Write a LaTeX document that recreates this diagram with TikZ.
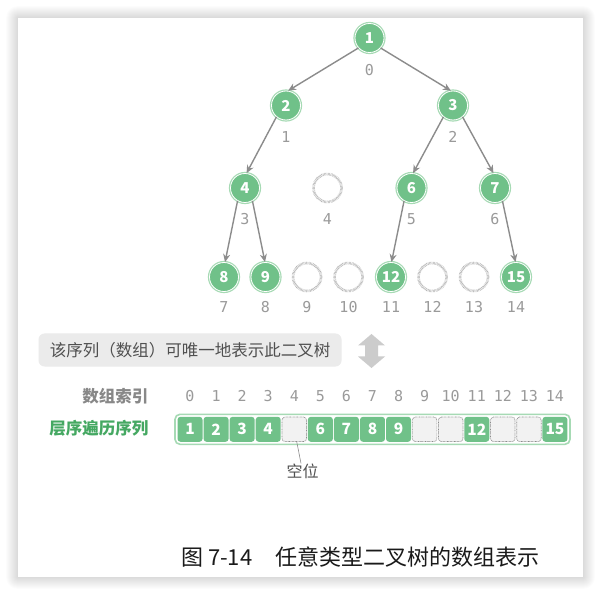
\documentclass[tikz,border=0pt]{standalone}
\usepackage{fontspec}
\setmainfont{Noto Sans CJK SC}
\newfontfamily\monof{DejaVu Sans Mono}
\usetikzlibrary{arrows.meta}
\definecolor{ngreen}{HTML}{70C189}
\definecolor{nlight}{HTML}{A6DAB4}
\definecolor{egray}{HTML}{B0B0B0}
\definecolor{agray}{HTML}{8C8C8C}
\definecolor{igray}{HTML}{9A9A9A}
\definecolor{lgray}{HTML}{888888}
\definecolor{tgreen}{HTML}{45A862}
\definecolor{boxgray}{HTML}{EBEBEB}
\definecolor{txtgray}{HTML}{505050}
\definecolor{capblack}{HTML}{1A1A1A}
\tikzset{
  treenode/.style={circle, minimum size=29pt, inner sep=0pt, fill=ngreen, draw=white, line width=0.8pt,
    preaction={draw=nlight, line width=3.2pt}, text=white, font=\fontsize{15}{15}\selectfont\bfseries},
  emptynode/.style={circle, minimum size=28pt, inner sep=0pt, draw=egray, line width=2.6pt, dash pattern=on 0.5pt off 0.8pt},
  idxlab/.style={text=igray, font=\monof\fontsize{15}{15}\selectfont, inner sep=0pt, anchor=base},
  edge/.style={draw=agray, line width=1.4pt, -{Stealth[length=8pt,width=7pt]}},
  cellfull/.style={rectangle, rounded corners=3pt, minimum width=25pt, minimum height=25pt, inner sep=0pt,
    fill=ngreen, text=white, font=\fontsize{15.5}{15.5}\selectfont\bfseries},
  cellempty/.style={rectangle, rounded corners=3pt, minimum width=24.5pt, minimum height=24.5pt, inner sep=0pt,
    fill=black!5, draw=black!45, dash pattern=on 0.7pt off 0.7pt, line width=0.7pt},
}
\begin{document}
\begin{tikzpicture}[x=1pt,y=-1pt]
\useasboundingbox (0,0) rectangle (603,596);
\fill[white] (0,0) rectangle (603,596);
\foreach \r in {1,...,12} {
  \fill[black, opacity=0.011, rounded corners=\r pt] (18-\r,18-\r) rectangle (583+\r,577+\r);
}
\fill[white] (18,18) rectangle (583,577);

% tree
\node[treenode] (n0) at (369.5,38) {1};
\node[treenode] (n1) at (286,105.5) {2};
\node[treenode] (n2) at (453,105.5) {3};
\node[treenode] (n3) at (245,188) {4};
\node[emptynode] (n4) at (327.5,188) {};
\node[treenode] (n5) at (411.5,188) {6};
\node[treenode] (n6) at (495,188) {7};
\node[treenode] (n7) at (224,277) {8};
\node[treenode] (n8) at (265.5,277) {9};
\node[emptynode] (n9) at (307,277) {};
\node[emptynode] (n10) at (348.5,277) {};
\node[treenode] (n11) at (391,277) {12};
\node[emptynode] (n12) at (432.5,277) {};
\node[emptynode] (n13) at (474,277) {};
\node[treenode] (n14) at (516,277) {15};

\draw[edge] (n0.222) -- (n1.82);
\draw[edge] (n0.318) -- (n2.98);
\draw[edge] (n1.230) -- (n3.84);
\draw[edge] (n2.230) -- (n5.84);
\draw[edge] (n2.310) -- (n6.96);
\draw[edge] (n3.240) -- (n7.86);
\draw[edge] (n3.300) -- (n8.92);
\draw[edge] (n5.240) -- (n11.88);
\draw[edge] (n6.300) -- (n14.92);

\foreach \k/\xx/\yy in {0/369.5/75.5, 1/286/142.5, 2/453/142.5, 3/245/224.5, 4/327.5/224.5, 5/411.5/224.5, 6/495/224.5,
  7/224/312.5, 8/265.5/312.5, 9/307/312.5, 10/348.5/312.5, 11/391/312.5, 12/432.5/312.5, 13/474/312.5, 14/516/312.5} {
  \node[idxlab] (l\k) at (\xx,\yy) {\k};
}

% statement box and double arrow
\node[fill=boxgray, rounded corners=6pt, minimum width=303pt, minimum height=33pt, inner sep=0pt,
  text=txtgray, font=\fontsize{16.5}{16.5}\selectfont] (seq) at (190,350) {该序列（数组）可唯一地表示此二叉树};
\fill[black!20] (371.5,334) -- (385,345.5) -- (378,345.5) -- (378,356.5) -- (385,356.5) -- (371.5,368)
  -- (358,356.5) -- (365,356.5) -- (365,345.5) -- (358,345.5) -- cycle;

% array
\node[anchor=east, inner sep=0pt, text=lgray, font=\fontsize{16.5}{16.5}\selectfont\bfseries] (lblidx) at (148.5,396.5) {数组索引};
\node[anchor=east, inner sep=0pt, text=tgreen, font=\fontsize{16.5}{16.5}\selectfont\bfseries] (lblseq) at (148.5,428.5) {层序遍历序列};
\node[draw=nlight, line width=1.6pt, rounded corners=5pt, minimum width=395pt, minimum height=30pt, fill=white] (arr) at (372.5,429.3) {};
\foreach \k/\xx in {0/190,1/216.07,2/242.14,3/268.21,4/294.28,5/320.35,6/346.42,7/372.49,8/398.56,9/424.63,
  10/450.7,11/476.77,12/502.84,13/528.91,14/554.98} {
  \node[idxlab] (i\k) at (\xx,402) {\k};
}
\foreach \k/\v in {0/1,1/2,2/3,3/4,5/6,6/7,7/8,8/9,11/12,14/15} {
  \node[cellfull] (c\k) at (190+26.07*\k,429.3) {\v};
}
\foreach \k in {4,9,10,12,13} {
  \node[cellempty] (c\k) at (190+26.07*\k,429.3) {};
}
\node[inner sep=0pt, text=txtgray, font=\fontsize{16}{16}\selectfont] (kw) at (302.5,471) {空位};
\draw[black!45, line width=0.6pt] (c4) -- (kw);

% caption
\node[anchor=west, inner sep=0pt, text=capblack, font=\fontsize{22}{22}\selectfont] (cap1) at (181,557.5) {图 7-14};
\node[anchor=west, inner sep=0pt, text=capblack, font=\fontsize{22}{22}\selectfont] (cap2) at (275,557.5) {任意类型二叉树的数组表示};
\end{tikzpicture}
\end{document}
